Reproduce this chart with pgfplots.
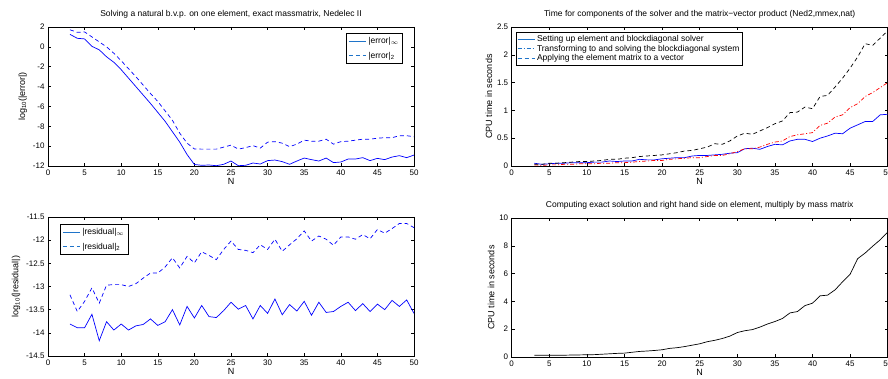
\documentclass[border=0pt]{standalone}
\usepackage{fontspec}
\setmainfont{Liberation Sans}
\usepackage{pgfplots}
\pgfplotsset{compat=1.18}
\usepackage{pgfplotstable}
\definecolor{legdummy}{rgb}{0.123,0.456,0.789}

\pgfplotstableread{
N einf etwo
3 1.26 1.72
4 0.86 1.46
5 0.80 1.50
6 0.05 1.00
7 -0.30 0.50
8 -1.00 0.00
9 -1.56 -0.65
10 -2.30 -1.40
11 -3.15 -2.20
12 -4.00 -3.00
13 -4.85 -3.85
14 -5.70 -4.70
15 -6.60 -5.50
16 -7.50 -6.45
17 -8.55 -7.40
18 -9.60 -8.70
19 -10.85 -9.70
20 -11.85 -10.29
21 -11.93 -10.30
22 -11.90 -10.30
23 -11.97 -10.30
24 -11.83 -10.10
25 -11.50 -9.90
26 -11.97 -10.30
27 -11.93 -10.15
28 -11.70 -9.95
29 -11.80 -10.20
30 -11.46 -9.60
31 -11.40 -9.55
32 -11.56 -9.70
33 -11.83 -10.05
34 -11.50 -9.80
35 -11.20 -9.40
36 -11.36 -9.50
37 -11.50 -9.50
38 -11.20 -9.30
39 -11.66 -9.80
40 -11.60 -9.55
41 -11.30 -9.50
42 -11.30 -9.40
43 -11.16 -9.30
44 -11.46 -9.30
45 -11.23 -9.20
46 -11.36 -9.15
47 -11.10 -9.15
48 -10.96 -8.95
49 -11.16 -8.95
50 -10.90 -9.05
}\errtab

\pgfplotstableread{
N rinf rtwo
3 -13.81 -13.18
4 -13.89 -13.54
5 -13.89 -13.32
6 -13.60 -13.03
7 -14.17 -13.36
8 -13.76 -12.97
9 -13.94 -12.96
10 -13.81 -12.96
11 -13.94 -13.00
12 -13.85 -12.94
13 -13.82 -12.82
14 -13.70 -12.71
15 -13.84 -12.71
16 -13.76 -12.58
17 -13.50 -12.38
18 -13.83 -12.60
19 -13.43 -12.35
20 -13.68 -12.49
21 -13.41 -12.25
22 -13.65 -12.33
23 -13.67 -12.42
24 -13.52 -12.20
25 -13.34 -12.02
26 -13.49 -12.20
27 -13.41 -12.22
28 -13.70 -12.27
29 -13.41 -12.10
30 -13.58 -12.20
31 -13.27 -11.98
32 -13.61 -12.24
33 -13.39 -12.10
34 -13.53 -11.97
35 -13.32 -11.80
36 -13.62 -12.02
37 -13.34 -11.91
38 -13.56 -11.98
39 -13.54 -12.11
40 -13.43 -11.93
41 -13.34 -11.93
42 -13.52 -11.98
43 -13.37 -11.88
44 -13.54 -11.97
45 -13.38 -11.77
46 -13.50 -11.85
47 -13.30 -11.75
48 -13.43 -11.64
49 -13.29 -11.64
50 -13.58 -11.73
}\restab

\pgfplotstableread{
N setup trans apply
3 0.05 0.02 0.03
4 0.03 0.01 0.03
5 0.04 0.02 0.05
6 0.05 0.02 0.05
7 0.05 0.03 0.06
8 0.06 0.03 0.07
9 0.06 0.04 0.08
10 0.06 0.04 0.08
11 0.07 0.04 0.09
12 0.07 0.05 0.10
13 0.09 0.05 0.12
14 0.08 0.06 0.12
15 0.09 0.06 0.14
16 0.09 0.07 0.15
17 0.12 0.08 0.17
18 0.11 0.09 0.18
19 0.11 0.10 0.19
20 0.13 0.10 0.20
21 0.14 0.12 0.22
22 0.15 0.13 0.24
23 0.15 0.14 0.27
24 0.18 0.15 0.28
25 0.19 0.15 0.31
26 0.19 0.17 0.34
27 0.20 0.19 0.40
28 0.21 0.19 0.39
29 0.23 0.22 0.45
30 0.24 0.26 0.54
31 0.31 0.31 0.59
32 0.32 0.31 0.57
33 0.30 0.34 0.63
34 0.35 0.39 0.69
35 0.39 0.43 0.76
36 0.38 0.45 0.81
37 0.45 0.53 0.96
38 0.48 0.56 0.97
39 0.48 0.58 1.06
40 0.44 0.60 1.03
41 0.50 0.73 1.25
42 0.54 0.77 1.27
43 0.59 0.88 1.42
44 0.58 0.92 1.58
45 0.68 1.05 1.76
46 0.74 1.12 1.96
47 0.80 1.25 2.20
48 0.80 1.32 2.17
49 0.92 1.41 2.30
50 0.93 1.50 2.43
}\timetab

\pgfplotstableread{
N t
3 0.12
4 0.12
5 0.12
6 0.12
7 0.13
8 0.14
9 0.15
10 0.16
11 0.17
12 0.20
13 0.23
14 0.26
15 0.28
16 0.34
17 0.40
18 0.43
19 0.47
20 0.52
21 0.62
22 0.67
23 0.75
24 0.85
25 0.95
26 1.10
27 1.20
28 1.33
29 1.50
30 1.76
31 1.89
32 1.97
33 2.15
34 2.37
35 2.55
36 2.77
37 3.17
38 3.27
39 3.70
40 3.87
41 4.40
42 4.45
43 4.83
44 5.41
45 5.95
46 7.07
47 7.48
48 7.97
49 8.43
50 8.98
}\rhstab

\pgfplotsset{
  mat/.style={
    scale only axis,
    width=#1, height=139pt,
    xmin=0, xmax=50, xtick={0,5,...,50},
    tick align=inside, major tick length=3pt,
    axis line style={line width=0.6pt},
    every tick/.style={black, line width=0.5pt},
    /pgf/number format/assume math mode=true,
    ticklabel style={font=\fontsize{8}{9}\selectfont},
    label style={font=\fontsize{9}{10}\selectfont},
    title style={font=\fontsize{8.5}{10}\selectfont, yshift=-1pt},
    xlabel={N},
    xlabel style={yshift=4pt},
    ylabel style={yshift=-2pt},
    legend cell align=left,
    legend style={font=\fontsize{8.5}{10}\selectfont, draw=black, fill=white, line width=0.8pt, inner sep=1pt, row sep=0pt},
    legend image code/.code={\pgfsetstrokecolor{legdummy}\pgfsetfillcolor{legdummy}\draw[##1, line width=0.9pt] (0pt,0pt) -- (17pt,0pt);},
  },
}

\begin{document}
\begin{tikzpicture}
\path[use as bounding box] (0pt,0pt) rectangle (888pt,379pt);

% top left
\begin{axis}[mat=366pt, at={(48pt,213pt)}, anchor=south west,
  ymin=-12, ymax=2, ytick={-12,-10,...,2},
  title={Solving a natural b.v.p. on one element, exact massmatrix, Nedelec II},
  ylabel={log\textsubscript{10}(|error|)},
  ylabel style={yshift=1pt},
  legend style={at={(1,1)}, anchor=north east, xshift=-11pt, yshift=-6pt, row sep=3pt, inner sep=2pt}]
\addplot[color=blue, solid, line width=0.7pt] table[x=N, y=einf] {\errtab};
\addlegendentry{|error|$_\infty$}
\addplot[color=blue, line width=0.7pt, dash pattern=on 4pt off 3pt] table[x=N, y=etwo] {\errtab};
\addlegendentry{|error|\textsubscript{2}}
\end{axis}

% top right
\begin{axis}[mat=376pt, at={(511.7pt,213pt)}, anchor=south west,
  ymin=0, ymax=2.5, ytick={0,0.5,1,1.5,2,2.5},
  title={Time for components of the solver and the matrix−vector product (Ned2,mmex,nat)},
  ylabel={CPU time in seconds},
  legend style={at={(0,1)}, anchor=north west, xshift=4pt, yshift=-5pt, row sep=-2pt}]
\addplot[color=blue, solid, line width=0.7pt] table[x=N, y=setup] {\timetab};
\addlegendentry{Setting up element and blockdiagonal solver}
\addplot[color=red, line width=0.7pt, dash pattern=on 4pt off 2pt on 1pt off 2pt] table[x=N, y=trans] {\timetab};
\addlegendentry{Transforming to and solving the blockdiagonal system}
\addplot[color=black, line width=0.7pt, dash pattern=on 4pt off 3pt] table[x=N, y=apply] {\timetab};
\addlegendentry{Applying the element matrix to a vector}
\end{axis}

% bottom left
\begin{axis}[mat=366pt, at={(48pt,23pt)}, anchor=south west,
  ymin=-14.5, ymax=-11.5, ytick={-14.5,-14,-13.5,-13,-12.5,-12,-11.5},
  ylabel={log\textsubscript{10}(|residual|)},
  ylabel style={yshift=1pt},
  legend style={at={(0,1)}, anchor=north west, xshift=12pt, yshift=-7pt, row sep=3pt, inner sep=2pt}]
\addplot[color=blue, solid, line width=0.7pt] table[x=N, y=rinf] {\restab};
\addlegendentry{|residual|$_\infty$}
\addplot[color=blue, line width=0.7pt, dash pattern=on 4pt off 3pt] table[x=N, y=rtwo] {\restab};
\addlegendentry{|residual|\textsubscript{2}}
\end{axis}

% bottom right
\begin{axis}[mat=376pt, at={(511.7pt,22pt)}, anchor=south west,
  ymin=0, ymax=10, ytick={0,2,...,10},
  title={Computing exact solution and right hand side on element, multiply by mass matrix},
  ylabel={CPU time in seconds}]
\addplot[color=black, line width=0.7pt] table[x=N, y=t] {\rhstab};
\end{axis}
\end{tikzpicture}
\end{document}
